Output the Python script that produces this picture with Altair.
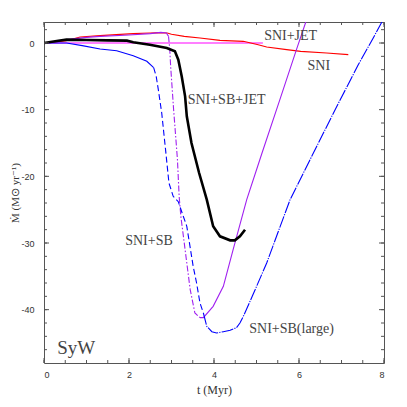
import altair as alt
import pandas as pd

# ---------------- data ----------------
x_major = [0, 2, 4, 6, 8]
x_minor = [0.5 * i for i in range(17)]
y_major = [-40, -30, -20, -10, 0]
y_minor = list(range(-46, 3, 2))

red_x = [0, 0.5, 0.85, 1.32, 1.7, 2.1, 2.5, 2.73, 2.9, 3.0, 3.3, 3.67, 4.14, 4.69, 5.04, 5.24, 5.71, 6.04, 6.65, 7.16]
red_y = [0, 0.3, 0.9, 1.1, 1.25, 1.4, 1.5, 1.55, 1.5, 1.3, 1.0, 0.75, 0.4, 0.25, -0.25, -0.6, -1.0, -1.25, -1.5, -1.75]

mag_x = [0, 5.15]
mag_y = [0, 0]

pur1_x = [0, 0.53, 1.0, 1.32, 2.0, 2.5, 2.75, 2.88, 2.93]
pur1_y = [0, 0.5, 0.85, 1.0, 1.2, 1.4, 1.6, 1.5, 1.0]
pur2_x = [2.93, 2.96, 2.98, 3.05, 3.14, 3.18, 3.22, 3.32, 3.44, 3.55, 3.67]
pur2_y = [1.0, -1.0, -3.5, -10, -17.5, -23, -26, -31, -37, -40.5, -41.2]
pur3_x = [3.67, 3.75, 3.98, 4.22, 4.45, 4.77, 5.13, 5.55, 5.94, 6.16]
pur3_y = [-41.2, -41.2, -39.5, -36.5, -31, -23.5, -16.5, -8.5, -1.0, 3.15]

blu1_x = [0, 0.53, 0.9, 1.32, 1.71, 2.1, 2.42, 2.58]
blu1_y = [0, 0, -0.4, -0.9, -1.15, -1.9, -2.75, -3.7]
blu2_x = [2.58, 2.64, 2.69, 2.77, 2.86, 2.94, 3.04, 3.16, 3.25, 3.36, 3.51, 3.59, 3.67, 3.75]
blu2_y = [-3.7, -5, -7, -10.5, -16, -21, -23, -23.8, -25.5, -27.5, -33.5, -36, -39, -40.5]
blu3_x = [3.75, 3.83, 3.95, 4.06, 4.22, 4.38, 4.53, 4.61, 4.69, 4.9, 5.24, 5.5, 5.79, 6.3, 6.85, 7.4, 7.75, 7.95]
blu3_y = [-40.5, -42.5, -43.3, -43.5, -43.3, -43.1, -42.7, -42, -41, -38, -33, -28.5, -23.5, -17, -10, -3.2, 0.8, 3.15]

blk_x = [0, 0.3, 0.53, 1.0, 1.5, 1.95, 2.1, 2.49, 2.89, 3.08, 3.16, 3.24, 3.32, 3.36, 3.47, 3.65, 3.83, 3.98, 4.14, 4.38, 4.49, 4.61, 4.73]
blk_y = [0, 0.3, 0.5, 0.45, 0.4, 0.35, 0.1, -0.25, -0.75, -1.25, -2.5, -5, -8, -11, -15, -19.5, -23.5, -27.5, -29, -29.6, -29.6, -29, -28]

labels = ["SNI+JET", "SNI", "SNI+SB+JET", "SNI+SB", "SNI+SB(large)"]
label_x = [5.18, 6.2, 3.38, 1.91, 4.83]
label_y = [1.0, -3.5, -8.5, -29.75, -42.85]

tag = ["SyW"]
tag_x = [0.31]
tag_y = [-45.7]

# ---------------- chart ----------------
W, H = 340, 341
xs = alt.Scale(domain=[0, 8], nice=False, zero=False)
ys = alt.Scale(domain=[-48, 3.15], nice=False, zero=False)

x_axis = alt.Axis(values=x_major, ticks=False, grid=False, domain=False,
                  labelFont="Liberation Sans", labelFontSize=9, labelColor="#333",
                  labelPadding=7, labelExpr="datum.value + ''",
                  title="t (Myr)", titleFont="Liberation Serif", titleFontSize=12,
                  titleFontWeight="normal", titleColor="#333", titlePadding=5)
y_axis = alt.Axis(values=y_major, ticks=False, grid=False, domain=False,
                  labelFont="Liberation Sans", labelFontSize=9, labelColor="#333",
                  labelPadding=10, labelExpr="datum.value + ''",
                  title="Ṁ (M⊙ yr⁻¹)", titleFont="Liberation Serif", titleFontSize=11,
                  titleFontWeight="normal", titleColor="#333", titlePadding=0)

XE = lambda f: alt.X(f, scale=xs, axis=x_axis)
YE = lambda f: alt.Y(f, scale=ys, axis=y_axis)


def line(xv, yv, color, dash=None, width=1.1):
    df = pd.DataFrame({"x": xv, "y": yv, "i": range(len(xv))})
    kw = dict(color=color, strokeWidth=width, clip=True)
    if dash:
        kw["strokeDash"] = dash
    return alt.Chart(df).mark_line(**kw).encode(x=XE("x:Q"), y=YE("y:Q"), order="i:Q")


layers = [
    line(mag_x, mag_y, "#ff00ff"),
    line(red_x, red_y, "#ff0000"),
    line(pur1_x, pur1_y, "#a020f0"),
    line(pur2_x, pur2_y, "#a020f0", dash=[6, 2, 1.5, 2]),
    line(pur3_x, pur3_y, "#a020f0"),
    line(blu1_x, blu1_y, "#0000ff"),
    line(blu2_x, blu2_y, "#0000ff", dash=[6, 3]),
    line(blu3_x, blu3_y, "#0000ff", dash=[12, 1.2, 1.2, 1.2]),
    line(blk_x, blk_y, "#000000", width=2.6),
]

# inward ticks on all four sides
tick_col = "#555"
def xticks(vals, length):
    df = pd.DataFrame({"x": vals})
    b = alt.Chart(df).mark_rule(color=tick_col, strokeWidth=1)
    bottom = b.encode(x=XE("x:Q"), y=alt.value(H), y2=alt.value(H - length))
    top = b.encode(x=XE("x:Q"), y=alt.value(0), y2=alt.value(length))
    return [bottom, top]

def yticks(vals, length):
    df = pd.DataFrame({"y": vals})
    b = alt.Chart(df).mark_rule(color=tick_col, strokeWidth=1)
    left = b.encode(y=YE("y:Q"), x=alt.value(0), x2=alt.value(length))
    right = b.encode(y=YE("y:Q"), x=alt.value(W), x2=alt.value(W - length))
    return [left, right]

layers += xticks(x_minor, 3) + xticks(x_major, 5) + yticks(y_minor, 3) + yticks(y_major, 5)

lab_df = pd.DataFrame({"x": label_x, "y": label_y, "t": labels})
layers.append(alt.Chart(lab_df).mark_text(align="left", baseline="middle", font="Liberation Serif",
                                          fontSize=14, color="#444").encode(
    x=XE("x:Q"), y=YE("y:Q"), text="t:N"))

tag_df = pd.DataFrame({"x": tag_x, "y": tag_y, "t": tag})
layers.append(alt.Chart(tag_df).mark_text(align="left", baseline="middle", font="Liberation Serif",
                                          fontSize=19, color="#444").encode(
    x=XE("x:Q"), y=YE("y:Q"), text="t:N"))

chart = alt.layer(*layers).properties(
    width=W, height=H,
    padding={"left": 36, "top": 14, "right": 15, "bottom": 44},
    autosize=alt.AutoSizeParams(type="none"),
    background="white",
).configure_view(stroke="#555", strokeWidth=1)

chart.save("out.html", embed_options={"renderer": "svg", "actions": False})
